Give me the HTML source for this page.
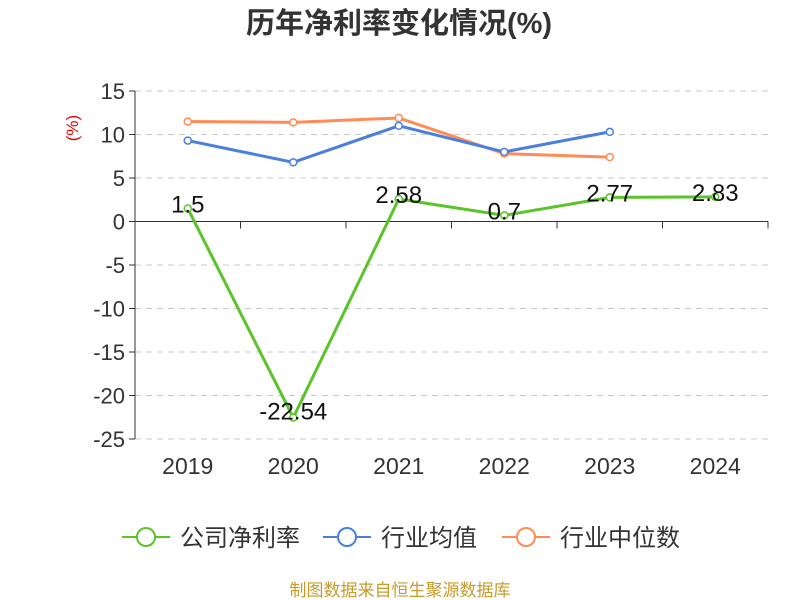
<!DOCTYPE html>
<html><head><meta charset="utf-8"><style>
body{margin:0;background:#fff;}
svg{display:block;font-family:"Liberation Sans","Noto Sans CJK SC",sans-serif;}
</style></head><body>
<svg id="chart" width="800" height="600">
<text x="399" y="33" text-anchor="middle" font-size="29" font-weight="bold" fill="#333">历年净利率变化情况(%)</text>
<text x="78" y="128" fill="#e00" font-size="17" transform="rotate(-90 78 128)" text-anchor="middle">(%)</text>
<g id="grid"></g><g id="axes"></g><g id="series"></g>
<g>
<g><line x1="122" y1="537" x2="170" y2="537" stroke="#5ac42a" stroke-width="2"/><circle cx="146" cy="537" r="9" fill="#fff" stroke="#5ac42a" stroke-width="2"/><text x="180" y="546" font-size="24" fill="#333">公司净利率</text></g>
<g><line x1="323" y1="537" x2="371" y2="537" stroke="#4a7fe0" stroke-width="2"/><circle cx="347" cy="537" r="9" fill="#fff" stroke="#4a7fe0" stroke-width="2"/><text x="381" y="546" font-size="24" fill="#333">行业均值</text></g>
<g><line x1="502" y1="537" x2="550" y2="537" stroke="#ff8c55" stroke-width="2"/><circle cx="526" cy="537" r="9" fill="#fff" stroke="#ff8c55" stroke-width="2"/><text x="560" y="546" font-size="24" fill="#333">行业中位数</text></g>
</g>
<text x="400" y="596" text-anchor="middle" font-size="17" fill="#c89a2a">制图数据来自恒生聚源数据库</text>
</svg>
<script>
const categories=["2019","2020","2021","2022","2023","2024"];
const companyValues=[1.5,-22.54,2.58,0.7,2.77,2.83];
const companyLabels=["1.5","-22.54","2.58","0.7","2.77","2.83"];
const avgValues=[9.3,6.8,11.0,8.0,10.3];
const medianValues=[11.5,11.4,11.9,7.8,7.4];
const yTicks=[15,10,5,0,-5,-10,-15,-20,-25];
const NS="http://www.w3.org/2000/svg";
const L=135,R=768,T=91,B=439,yMax=15,yMin=-25;
const bw=(R-L)/categories.length;
const X=i=>L+bw*(i+0.5);
const Y=v=>T+(yMax-v)/(yMax-yMin)*(B-T);
function mk(tag,attrs,parent){const e=document.createElementNS(NS,tag);for(const k in attrs)e.setAttribute(k,attrs[k]);parent.appendChild(e);return e;}
const grid=document.getElementById('grid'),axes=document.getElementById('axes'),ser=document.getElementById('series');
yTicks.forEach(t=>{
  if(t!==0){const g=mk('line',{x1:L,x2:R,y1:Y(t),y2:Y(t),stroke:'#c8c8c8','stroke-dasharray':'6,5'},grid);
  
  }
  mk('line',{x1:L-6,x2:L,y1:Y(t),y2:Y(t),stroke:'#333'},axes);
  const tx=mk('text',{x:L-10,y:Y(t)+8,'text-anchor':'end','font-size':22,fill:'#333'},axes);
  tx.textContent=t;
  
  
});
mk('line',{x1:L,x2:L,y1:T,y2:B,stroke:'#333'},axes);
mk('line',{x1:L,x2:R,y1:Y(0),y2:Y(0),stroke:'#333'},axes);
for(let i=0;i<=categories.length;i++)mk('line',{x1:L+bw*i,x2:L+bw*i,y1:Y(0),y2:Y(0)+7,stroke:'#333'},axes);
categories.forEach((c,i)=>{const tx=mk('text',{x:X(i),y:474,'text-anchor':'middle','font-size':23,fill:'#333'},axes);tx.textContent=c;

});
function series(vals,color,name){
  const p=mk('polyline',{points:vals.map((v,i)=>X(i)+','+Y(v)).join(' '),fill:'none',stroke:color,'stroke-width':3},ser);
  
  
  vals.forEach((v,i)=>{const c=mk('circle',{cx:X(i),cy:Y(v),r:3.5,fill:'#fff',stroke:color,'stroke-width':1.5},ser);
  
  });
}
series(medianValues,'#ff8c55','industry-median');
series(avgValues,'#4a7fe0','industry-avg');
series(companyValues,'#5ac42a','company');
companyValues.forEach((v,i)=>{const tx=mk('text',{x:X(i),y:v<0?Y(v)+2:Y(v)+4,'text-anchor':'middle','font-size':24,fill:'#111'},ser);
tx.textContent=companyLabels[i];

});
</script>
</body></html>
